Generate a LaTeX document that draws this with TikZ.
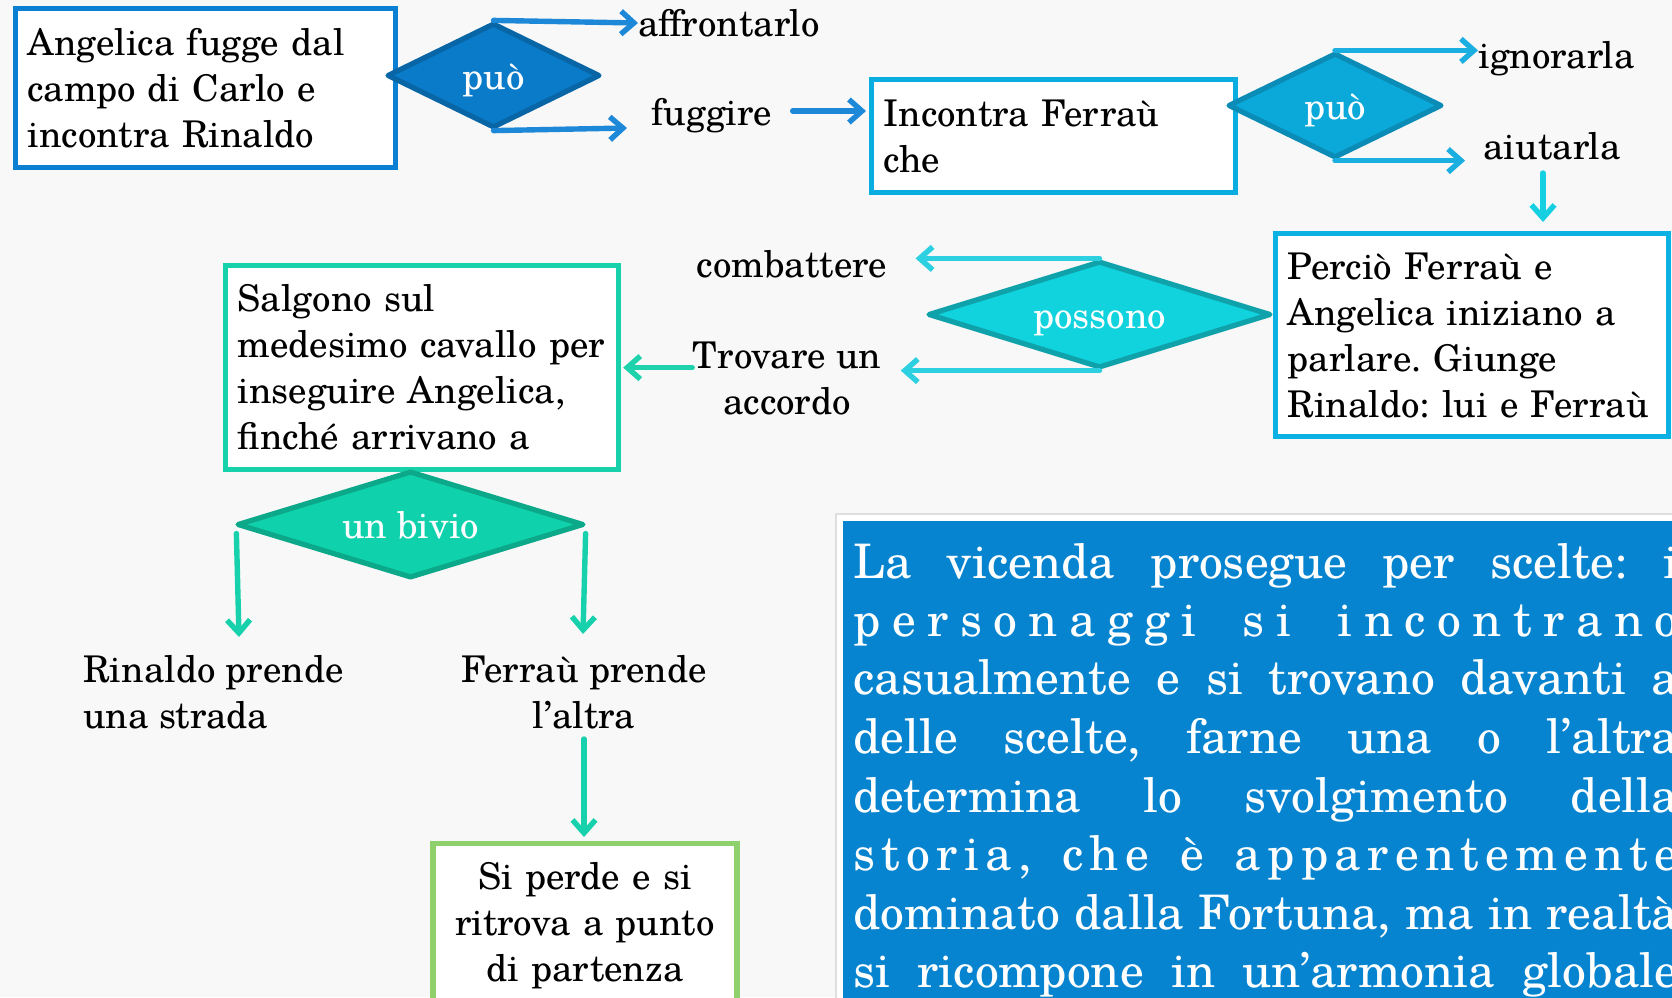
\documentclass[tikz,border=0pt]{standalone}
\usepackage{fontspec}
\setmainfont{texgyreschola-regular.otf}
\usetikzlibrary{arrows.meta,shapes.geometric}
\frenchspacing
\definecolor{bgc}{HTML}{F8F8F8}
\definecolor{boxA}{HTML}{0B7FD1}
\definecolor{diaAf}{HTML}{0A7BC9}
\definecolor{diaAd}{HTML}{0866A6}
\definecolor{arrA}{HTML}{1E88D8}
\definecolor{boxB}{HTML}{0AADDF}
\definecolor{diaBf}{HTML}{0AA9DA}
\definecolor{diaBd}{HTML}{0B8CB6}
\definecolor{arrB}{HTML}{1BAEE1}
\definecolor{arrC}{HTML}{16CFE0}
\definecolor{boxC}{HTML}{0BB1E2}
\definecolor{diaCf}{HTML}{10D3DE}
\definecolor{diaCd}{HTML}{0FA2AA}
\definecolor{arrD}{HTML}{2CD0E0}
\definecolor{boxD}{HTML}{17D1AA}
\definecolor{arrE}{HTML}{1ED2AC}
\definecolor{diaDf}{HTML}{0FD2AC}
\definecolor{diaDd}{HTML}{0BA98A}
\definecolor{arrF}{HTML}{16D1AB}
\definecolor{boxE}{HTML}{8DD06C}
\definecolor{noteblue}{HTML}{0784D0}
\newcommand\boxfont{\fontsize{18.4}{23}\selectfont}
\newcommand\notefont{\fontsize{23.8}{29.3}\selectfont}
\newcommand\lsp{\hskip 0pt plus 1fil\relax}
\newcommand\wsp{\hskip 6pt plus 3fil\relax}
\begin{document}
\begin{tikzpicture}[x=0.5pt,y=-0.5pt,
  box/.style={draw, fill=white, line width=2.6pt, inner xsep=6pt, inner ysep=0pt, align=left, font=\boxfont, anchor=north west},
  dia/.style={diamond, aspect=2, inner sep=0pt, line width=2.6pt, line join=round, text=white, font=\boxfont, text height=14pt, text depth=0pt},
  lbl/.style={inner sep=0pt, font=\boxfont},
  arr/.style={line width=2.7pt, line cap=round, -{Straight Barb[length=6.5pt,width=11.5pt]}},
  noteline/.style={inner sep=0pt, anchor=base west, text=white, font=\notefont}]
\useasboundingbox (0,0) rectangle (1672,997);
\fill[bgc] (0,0) rectangle (1672,997);
\begin{scope}
\clip (0,0) rectangle (1672,997);
% row 1
\node[box, draw=boxA, text width=178pt, minimum width=190pt, minimum height=79.5pt] (b1) at (13,6) {Angelica fugge dal\\campo di Carlo e\\incontra Rinaldo};
\node[dia, fill=diaAf, draw=diaAd, minimum width=106.5pt, minimum height=52.5pt] (d1) at (493.5,75.5) {può};
\node[lbl, anchor=west] (aff) at (638,23) {affrontarlo};
\node[lbl] (fug) at (712,116) {fuggire};
\coordinate (fugA) at (627,128);
\draw[arr, draw=arrA] (d1.north) -- (aff.west);
\draw[arr, draw=arrA] (d1.south) -- (fugA);
\node[box, draw=boxB, text width=170pt, minimum width=182pt, minimum height=56.5pt] (b2) at (869,77) {Incontra Ferraù\\che};
\draw[arr, draw=arrA, shorten <=10pt, shorten >=1.5pt] ([yshift=2.5pt]fug.east) -- ([yshift=2.5pt]fug.east -| b2.west);
\node[dia, fill=diaBf, draw=diaBd, minimum width=107pt, minimum height=52.5pt] (d2) at (1335,105.5) {può};
\node[lbl, anchor=west] (ign) at (1478,59) {ignorarla};
\node[lbl] (aiu) at (1552,146) {aiutarla};
\draw[arr, draw=arrB] (d2.north) -- (d2.north -| ign.west);
\draw[arr, draw=arrB, shorten >=9pt] (d2.south) -- (d2.south -| aiu.west);
% row 2
\node[box, draw=boxC, text width=184.5pt, minimum width=196.5pt, minimum height=101.5pt] (b3) at (1273,231) {Perciò Ferraù e\\Angelica iniziano a\\parlare. Giunge\\Rinaldo:~lui~e~Ferraù};
\coordinate (aiuS) at (1543,173);
\draw[arr, draw=arrC, shorten >=4.5pt] (aiuS) -- (aiuS |- b3.north);
\node[dia, fill=diaCf, draw=diaCd, minimum width=171.5pt, minimum height=53.5pt] (d3) at (1099.5,314.5) {possono};
\node[lbl] (comb) at (792,264) {combattere};
\node[lbl, align=center] (trov) at (787,378) {Trovare un\\accordo};
\draw[arr, draw=arrD, shorten >=14pt] (d3.north) -- (d3.north -| comb.east);
\draw[arr, draw=arrD, shorten >=9.5pt] (d3.south) -- (d3.south -| trov.east);
\node[box, draw=boxD, text width=184.5pt, minimum width=196.5pt, minimum height=102pt] (b4) at (223,263) {Salgono sul\\medesimo~cavallo~per\\inseguire Angelica,\\finché arrivano a};
\draw[arr, draw=arrE, shorten >=1pt] (trov.west |- b4.east) -- (b4.east);
% row 3
\node[dia, fill=diaDf, draw=diaDd, minimum width=173.5pt, minimum height=53.5pt] (d4) at (410.5,524.5) {un bivio};
\coordinate (rinA) at (239,637);
\coordinate (ferA) at (583,634);
\draw[arr, draw=arrF] ([xshift=1pt,yshift=-4.5pt]d4.west) -- (rinA);
\draw[arr, draw=arrF] ([xshift=-0.5pt,yshift=-4.5pt]d4.east) -- (ferA);
\node[lbl, align=left, anchor=west] (rin) at (83,692) {Rinaldo prende\\una strada};
\node[lbl, align=center] (fer) at (584,692) {Ferraù prende\\l’altra};
\node[box, draw=boxE, align=center, text width=140pt, minimum width=152pt, minimum height=82pt, anchor=north] (b5) at (585,841) {Si perde e si\\ritrova a punto\\di partenza};
\coordinate (ferS) at (584,739);
\draw[arr, draw=arrF, shorten >=2pt] (ferS) -- (ferS |- b5.north);
% note box
\node[draw=gray!25, fill=white, line width=1pt, inner sep=0pt, minimum width=430pt, minimum height=250pt, anchor=north west] (frame) at (835,513) {};
\node[fill=noteblue, inner sep=0pt, minimum width=425pt, minimum height=245pt, anchor=north west] (note) at (843,521) {};
\node[noteline] (n1) at (853,578) {\makebox[412.5pt][s]{La vicenda prosegue per scelte: i}};
\node[noteline] (n2) at (853,636) {\hbox to 412.5pt{p\lsp e\lsp r\lsp s\lsp o\lsp n\lsp a\lsp g\lsp g\lsp i\wsp s\lsp i\wsp i\lsp n\lsp c\lsp o\lsp n\lsp t\lsp r\lsp a\lsp n\lsp o}};
\node[noteline] (n3) at (853,694) {\makebox[412.5pt][s]{casualmente e si trovano davanti a}};
\node[noteline] (n4) at (853,753) {\makebox[412.5pt][s]{delle scelte, farne una o l’altra}};
\node[noteline] (n5) at (853,812) {\makebox[412.5pt][s]{determina lo svolgimento della}};
\node[noteline] (n6) at (853,870) {\hbox to 412.5pt{s\lsp t\lsp o\lsp r\lsp i\lsp a\lsp ,\wsp c\lsp h\lsp e\wsp è\wsp a\lsp p\lsp p\lsp a\lsp r\lsp e\lsp n\lsp t\lsp e\lsp m\lsp e\lsp n\lsp t\lsp e}};
\node[noteline] (n7) at (853,929) {\makebox[412.5pt][s]{dominato dalla Fortuna, ma in realtà}};
\node[noteline] (n8) at (853,987) {\makebox[412.5pt][s]{si ricompone in un’armonia globale}};
\end{scope}
\end{tikzpicture}
\end{document}
